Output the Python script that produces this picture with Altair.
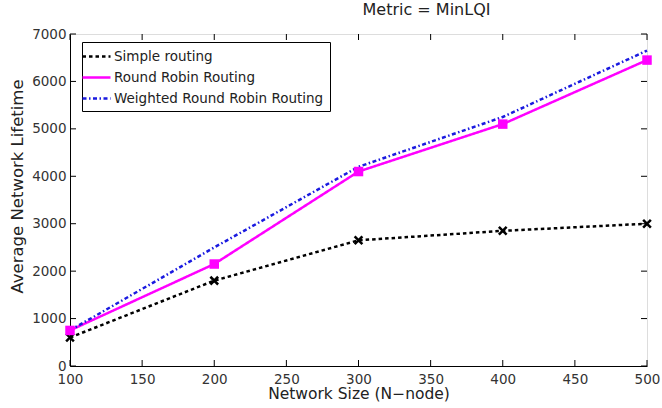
import altair as alt
import pandas as pd

series_names = ["Simple routing", "Round Robin Routing", "Weighted Round Robin Routing"]
network_size = [100, 200, 300, 400, 500]
simple_vals = [600, 1800, 2650, 2850, 3000]
rr_vals = [750, 2150, 4100, 5100, 6450]
wrr_vals = [750, 2500, 4200, 5250, 6650]
x_ticks = [100, 150, 200, 250, 300, 350, 400, 450, 500]
y_ticks = [0, 1000, 2000, 3000, 4000, 5000, 6000, 7000]

rows = []
for name, vals in zip(series_names, [simple_vals, rr_vals, wrr_vals]):
    for x, v in zip(network_size, vals):
        rows.append({"series": name, "N": x, "life": v})
df = pd.DataFrame(rows)

W, H = 577, 332
FONT = "DejaVu Sans"

xscale = alt.Scale(domain=[100, 500], nice=False, zero=False)
yscale = alt.Scale(domain=[0, 7000], nice=False)

line_legend = alt.Legend(
    title=None, orient="none", legendX=12, legendY=8, padding=6,
    strokeColor="black", fillColor="white",
    labelFontSize=13.5, labelFont=FONT, labelLimit=0, labelColor="#222",
    symbolType="M-2,0H2", symbolSize=196, symbolStrokeWidth=2.5,
    rowPadding=6, labelOffset=9,
)

xenc = alt.X("N:Q", scale=xscale, axis=alt.Axis(
    values=x_ticks, ticks=False, grid=False, title="Network Size (N\u2212node)",
    labelFontSize=13.5, labelFont=FONT, labelColor="#333", labelPadding=6,
    titleFontSize=15.5, titleFont=FONT, titleFontWeight="normal", titleColor="#222",
    titlePadding=1, domainColor="black", labelFlush=False))
yenc = alt.Y("life:Q", scale=yscale, axis=alt.Axis(
    values=y_ticks, ticks=False, grid=False, title="Average Network Lifetime", format="d",
    labelFontSize=13.5, labelFont=FONT, labelColor="#333", labelPadding=4,
    titleFontSize=16.5, titleFont=FONT, titleFontWeight="normal", titleColor="#222",
    titlePadding=6, titleY=152, domainColor="black"))

color_scale = alt.Scale(domain=series_names, range=["black", "#ff00ff", "#1a1ae0"])
dash_scale = alt.Scale(domain=series_names, range=[[3.5, 3], [1, 0], [4, 2.5, 1.5, 2.5]])

lines = alt.Chart(df).mark_line(strokeWidth=2.5).encode(
    x=xenc, y=yenc,
    color=alt.Color("series:N", scale=color_scale, legend=line_legend, sort=series_names),
    strokeDash=alt.StrokeDash("series:N", scale=dash_scale, legend=line_legend, sort=series_names),
)

xpath = "M-1,-1L1,1M-1,1L1,-1"
pts_simple = alt.Chart(df).transform_filter(
    alt.datum.series == series_names[0]
).mark_point(shape=xpath, filled=False, strokeWidth=2.5, size=60, color="black", opacity=1).encode(
    x=alt.X("N:Q", scale=xscale), y=alt.Y("life:Q", scale=yscale))

pts_rr = alt.Chart(df).transform_filter(
    alt.datum.series == series_names[1]
).mark_square(size=90, color="#ff00ff", opacity=1).encode(
    x=alt.X("N:Q", scale=xscale), y=alt.Y("life:Q", scale=yscale))

xt = pd.DataFrame({"t": x_ticks})
yt = pd.DataFrame({"t": y_ticks})
tick_bot = alt.Chart(xt).mark_rule(color="black", strokeWidth=1).encode(
    x=alt.X("t:Q", scale=xscale), y=alt.value(H), y2=alt.value(H - 6))
tick_top = alt.Chart(xt).mark_rule(color="black", strokeWidth=1).encode(
    x=alt.X("t:Q", scale=xscale), y=alt.value(0), y2=alt.value(6))
tick_left = alt.Chart(yt).mark_rule(color="black", strokeWidth=1).encode(
    y=alt.Y("t:Q", scale=yscale), x=alt.value(0), x2=alt.value(6))
tick_right = alt.Chart(yt).mark_rule(color="black", strokeWidth=1).encode(
    y=alt.Y("t:Q", scale=yscale), x=alt.value(W), x2=alt.value(W - 6))

chart = alt.layer(
    tick_bot, tick_top, tick_left, tick_right, lines, pts_simple, pts_rr
).properties(
    width=W, height=H,
    title=alt.Title("Metric = MinLQI", fontSize=16, font=FONT, fontWeight="normal",
                    color="#222", dx=68, offset=9),
    autosize=alt.AutoSizeParams(type="none"),
    padding={"left": 70, "top": 34, "right": 15, "bottom": 42},
).configure_view(stroke="black", strokeWidth=1).configure(background="white")

chart.save("out.html", embed_options={"renderer": "svg", "actions": False})
